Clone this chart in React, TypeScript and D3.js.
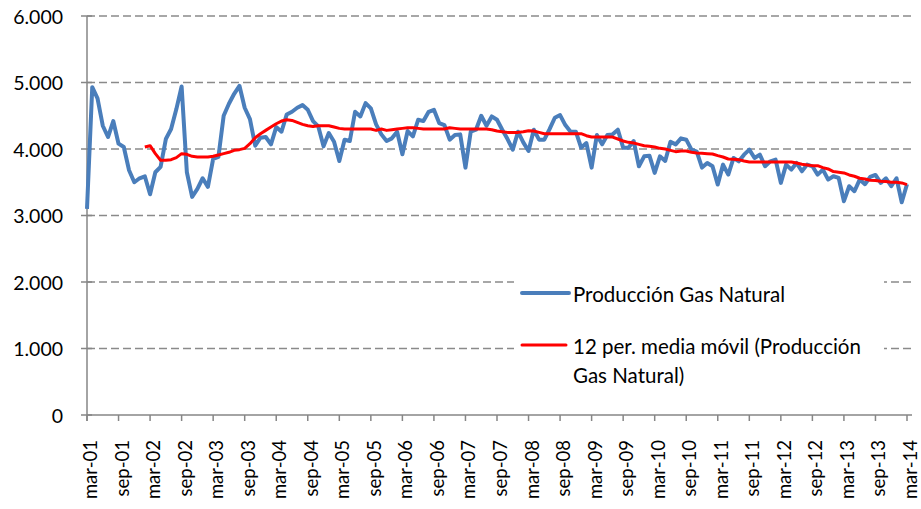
import React, { useEffect, useRef } from 'react';
import * as d3 from 'd3';

// produccion mensual mar-01 .. mar-14
const produccion = [
    3100, 4930, 4760, 4350, 4180, 4420, 4080, 4030, 3680, 3500,
    3560, 3590, 3320, 3650, 3730, 4150, 4300, 4600, 4940, 3650,
    3280, 3400, 3560, 3430, 3850, 3880, 4500, 4680, 4830, 4950,
    4620, 4450, 4050, 4170, 4180, 4070, 4330, 4260, 4520, 4560,
    4620, 4660, 4590, 4420, 4340, 4040, 4240, 4110, 3820, 4140,
    4120, 4560, 4490, 4690, 4610, 4370, 4220, 4120, 4160, 4260,
    3920, 4270, 4190, 4440, 4420, 4560, 4590, 4390, 4360, 4140,
    4210, 4220, 3720, 4260, 4290, 4500, 4350, 4490, 4440, 4290,
    4150, 3990, 4260, 4100, 3970, 4290, 4140, 4140, 4300, 4470,
    4510, 4360, 4260, 4260, 4020, 4090, 3720, 4210, 4070, 4210,
    4220, 4290, 4020, 4020, 4120, 3740, 3890, 3900, 3640, 3890,
    3820, 4110, 4070, 4160, 4140, 3990, 3960, 3720, 3790, 3740,
    3465, 3765, 3615, 3865, 3815, 3915, 3990, 3865, 3915, 3740,
    3815, 3840, 3490, 3765, 3690, 3790, 3665, 3765, 3740, 3615,
    3690, 3540, 3590, 3565, 3215, 3440, 3365, 3540, 3470, 3580,
    3610, 3490, 3560, 3440, 3560, 3200, 3470
];

// media movil de 12 periodos, empieza en feb-02
const mediaInicio = 11;
const mediaMovil = [
    4030, 4050, 3930, 3830, 3830, 3840, 3870, 3930, 3920, 3890,
    3880, 3880, 3880, 3890, 3910, 3930, 3950, 3980, 3990, 4010,
    4080, 4170, 4230, 4280, 4330, 4380, 4420, 4440, 4430, 4400,
    4370, 4350, 4340, 4350, 4350, 4350, 4330, 4310, 4300, 4300,
    4300, 4300, 4300, 4300, 4280, 4300, 4280, 4290, 4300, 4310,
    4320, 4320, 4310, 4300, 4300, 4300, 4300, 4300, 4320, 4310,
    4300, 4300, 4300, 4300, 4300, 4300, 4290, 4270, 4260, 4250,
    4250, 4250, 4260, 4275, 4270, 4250, 4230, 4230, 4230, 4230,
    4230, 4230, 4230, 4230, 4200, 4180, 4180, 4180, 4180, 4180,
    4150, 4120, 4100, 4090, 4070, 4050, 4040, 4030, 4010, 4000,
    3980, 3960, 3970, 3970, 3950, 3940, 3935, 3930, 3925, 3900,
    3880, 3850, 3845, 3840, 3820, 3805, 3805, 3805, 3805, 3805,
    3805, 3805, 3805, 3805, 3790, 3770, 3760, 3750, 3750, 3720,
    3700, 3660, 3650, 3640, 3610, 3590, 3560, 3550, 3530, 3525,
    3515, 3510, 3500, 3500, 3490, 3465
];

const etiquetasX = [
    'mar-01', 'sep-01', 'mar-02', 'sep-02', 'mar-03', 'sep-03', 'mar-04',
    'sep-04', 'mar-05', 'sep-05', 'mar-06', 'sep-06', 'mar-07', 'sep-07',
    'mar-08', 'sep-08', 'mar-09', 'sep-09', 'mar-10', 'sep-10', 'mar-11',
    'sep-11', 'mar-12', 'sep-12', 'mar-13', 'sep-13', 'mar-14'
];

const ticksY = [0, 1000, 2000, 3000, 4000, 5000, 6000];

const series = ['Producción Gas Natural', '12 per. media móvil (Producción', 'Gas Natural)'];

// ====

const FONT = 'Lato, "Open Sans", sans-serif';

export default function App() {
    const ref = useRef<SVGSVGElement>(null);

    useEffect(() => {
        const svg = d3.select(ref.current);
        svg.selectAll('*').remove();

        const x = d3.scaleLinear().domain([0, produccion.length - 1]).range([87, 907]);
        const y = d3.scaleLinear().domain([0, 6000]).range([415, 16]);
        const fmt = d3.formatLocale({ decimal: ',', thousands: '.', grouping: [3], currency: ['', ''] }).format(',');

        // grid
        svg.append('g')
            .selectAll('line')
            .data(ticksY.filter((d) => d > 0))
            .enter()
            .append('line')
            .attr('x1', 87)
            .attr('x2', 912)
            .attr('y1', (d) => y(d))
            .attr('y2', (d) => y(d))
            .attr('stroke', '#8a8a8a')
            .attr('stroke-width', 1.4)
            .attr('stroke-dasharray', '8,4');

        // ejes
        svg.append('line')
            .attr('x1', 87).attr('x2', 87)
            .attr('y1', y(6000)).attr('y2', 421)
            .attr('stroke', '#868686').attr('stroke-width', 1.5);
        svg.append('line')
            .attr('x1', 87).attr('x2', 912)
            .attr('y1', y(0)).attr('y2', y(0))
            .attr('stroke', '#868686').attr('stroke-width', 1.5);

        const gy = svg.append('g');
        gy.selectAll('line')
            .data(ticksY)
            .enter()
            .append('line')
            .attr('x1', 81).attr('x2', 92)
            .attr('y1', (d) => y(d)).attr('y2', (d) => y(d))
            .attr('stroke', '#868686').attr('stroke-width', 1.5);
        gy.selectAll('text')
            .data(ticksY)
            .enter()
            .append('text')
            .attr('x', 63)
            .attr('y', (d) => y(d))
            .attr('text-anchor', 'end')
            .attr('dominant-baseline', 'central')
            .style('font-family', FONT)
            .style('font-size', '19.5px')
            .attr('fill', '#000')
            .text((d) => fmt(d));

        const gx = svg.append('g');
        gx.selectAll('line')
            .data(etiquetasX)
            .enter()
            .append('line')
            .attr('x1', (d, i) => x(i * 6)).attr('x2', (d, i) => x(i * 6))
            .attr('y1', y(0)).attr('y2', 421)
            .attr('stroke', '#868686').attr('stroke-width', 1.5);
        // texto girado: la linea base queda a la derecha
        gx.selectAll('text')
            .data(etiquetasX)
            .enter()
            .append('text')
            .attr('transform', (d, i) => `translate(${x(i * 6) + 10}, 440) rotate(-90)`)
            .attr('text-anchor', 'end')
            .style('font-family', FONT)
            .style('font-size', '18.5px')
            .attr('fill', '#000')
            .text((d) => d);

        // series
        const linea = d3.line<number>()
            .x((d, i) => x(i))
            .y((d) => y(d));
        svg.append('path')
            .attr('d', linea(produccion))
            .attr('fill', 'none')
            .attr('stroke', '#4a7ebb')
            .attr('stroke-width', 4)
            .attr('stroke-linejoin', 'round');

        const lineaMedia = d3.line<number>()
            .x((d, i) => x(i + mediaInicio))
            .y((d) => y(d));
        svg.append('path')
            .attr('d', lineaMedia(mediaMovil))
            .attr('fill', 'none')
            .attr('stroke', '#ff0000')
            .attr('stroke-width', 3)
            .attr('stroke-linejoin', 'round');

        // leyenda
        const leg = svg.append('g');
        leg.append('rect')
            .attr('x', 514).attr('y', 268)
            .attr('width', 370).attr('height', 127)
            .attr('fill', '#fff');
        leg.append('line')
            .attr('x1', 522).attr('x2', 569).attr('y1', 293).attr('y2', 293)
            .attr('stroke', '#4a7ebb').attr('stroke-width', 4).attr('stroke-linecap', 'round');
        leg.append('line')
            .attr('x1', 522).attr('x2', 566).attr('y1', 345).attr('y2', 345)
            .attr('stroke', '#ff0000').attr('stroke-width', 3).attr('stroke-linecap', 'round');
        leg.selectAll('text')
            .data(series)
            .enter()
            .append('text')
            .attr('x', 573)
            .attr('y', (d, i) => [294, 346, 375][i])
            .attr('dominant-baseline', 'central')
            .style('font-family', FONT)
            .style('font-size', '20.5px')
            .attr('fill', '#000')
            .text((d) => d);
    }, []);

    return (
        <svg
            ref={ref}
            width={921}
            height={509}
            style={{ position: 'absolute', left: 0, top: 0, background: '#fff' }}>
        </svg>
    );
}
